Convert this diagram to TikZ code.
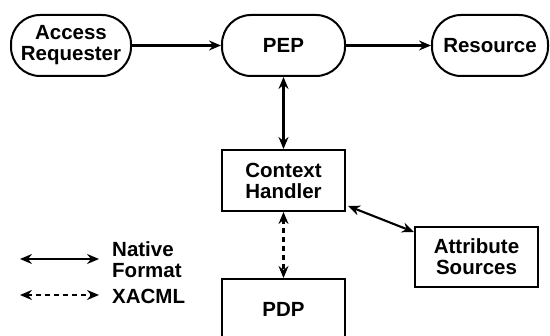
\documentclass[tikz,border=0pt]{standalone}
\usepackage{fontspec}
\setmainfont{Liberation Sans}
\usetikzlibrary{arrows.meta}
\begin{document}
\begin{tikzpicture}[x=1pt,y=-1pt,
  every node/.style={font=\bfseries\fontsize{20.5}{21}\selectfont, align=center, inner sep=0pt},
  pill/.style={draw, line width=2pt, rounded corners=29pt, minimum width=123pt, minimum height=61pt},
  boxnode/.style={draw, line width=2pt, minimum width=123pt, minimum height=61pt},
  tip/.tip={Stealth[length=12pt,width=10pt,inset=4pt]},
  link/.style={line width=2.1pt, -tip},
  duplex/.style={line width=2.1pt, tip-tip},
  xacml/.style={duplex, dash pattern=on 5pt off 4pt}]
\useasboundingbox (0,0) rectangle (550,336);
\clip (0,0) rectangle (550,336);

% top row: requester, enforcement point, resource
\node[pill, minimum width=120pt] (ar) at (71,45.5)    {Access\\Requester};
\node[pill] (pep) at (283.5,45.5) {PEP};
\node[pill, minimum width=116pt] (res) at (490,45.5) {Resource};

% context handler, decision point, attribute sources
\node[boxnode] (ch)   at (283.5,180.5) {Context\\Handler};
\node[boxnode] (pdp)  at (283.5,309.5) {PDP};
\node[boxnode, minimum height=60pt] (attr) at (476.5,257) {Attribute\\Sources};

% connectors
\draw[link] (ar) -- (pep);
\draw[link] (pep) -- (res);
\draw[duplex] (pep) -- (ch);
\draw[xacml] (ch) -- (pdp);
\draw[duplex] ([shift={(2pt,6pt)}]ch.south east) -- ([yshift=-6pt]attr.north west);

% legend
\coordinate (n1) at (20,259);
\coordinate (n2) at (99,259);
\coordinate (x1) at (20,295);
\coordinate (x2) at (99,295);
\draw[duplex] (n1) -- (n2);
\draw[xacml] (x1) -- (x2);
\node[anchor=west, align=left] (lnat) at (112,259.5) {Native\\Format};
\node[anchor=west, align=left] (lxac) at (112,296) {XACML};
\end{tikzpicture}
\end{document}
